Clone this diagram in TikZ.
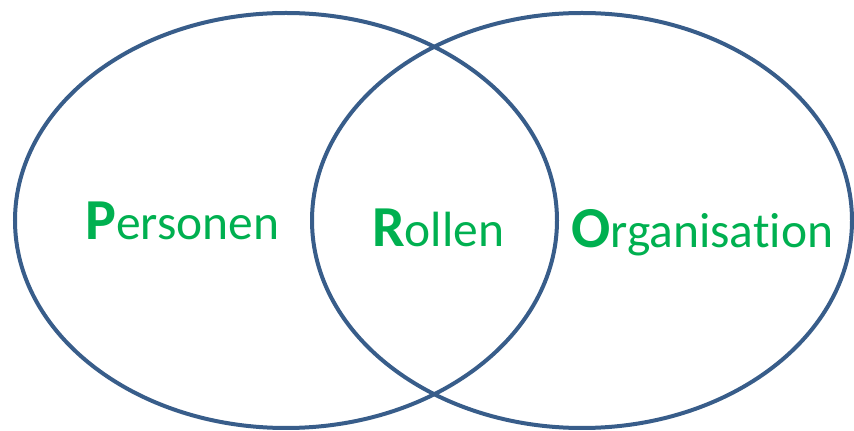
\documentclass[tikz,border=0pt]{standalone}
\usepackage{fontspec}
\setmainfont{Carlito}[Ligatures=NoCommon]
\usepackage{tikz}
\usetikzlibrary{positioning}
\definecolor{ringblue}{RGB}{56,93,138}
\definecolor{termgreen}{RGB}{0,176,80}
\newcommand{\firstletter}[1]{{\fontsize{58}{58}\selectfont\bfseries #1}}

\begin{document}
\begin{tikzpicture}[x=1pt,y=1pt,
  ring/.style={draw=ringblue, line width=4pt},
  term/.style={text=termgreen, font=\fontsize{49.5}{49.5}\selectfont, inner sep=0pt, anchor=base west}]
\useasboundingbox (0,0) rectangle (854,431);
% the two overlapping rings
\draw[ring] (286,210.5) ellipse [x radius=271pt, y radius=207.5pt];
\draw[ring] (582,210.5) ellipse [x radius=270pt, y radius=207.5pt];
% labels
\node[term] (personen) at (85,191) {\firstletter{P}ersonen};
\node[term] (rollen) at (372,184) {\firstletter{R}ollen};
\node[term] (organisation) at (571,183) {\firstletter{O}rganisation};
\end{tikzpicture}
\end{document}
